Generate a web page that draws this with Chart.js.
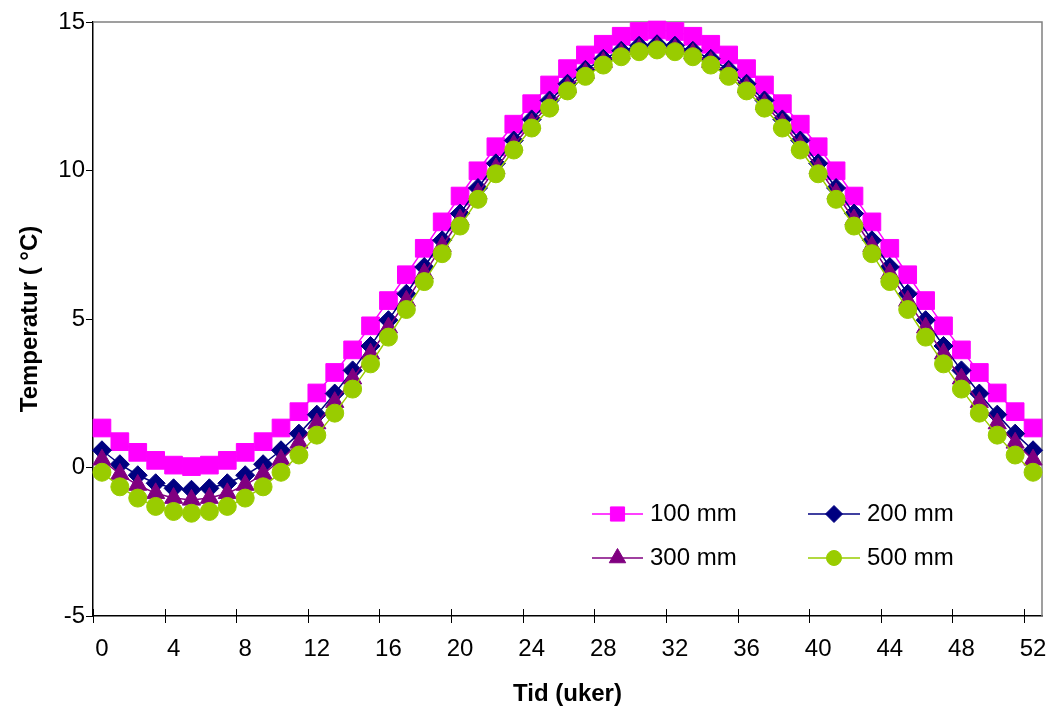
<!DOCTYPE html>
<html>
<head>
<meta charset="utf-8">
<script src="https://cdn.jsdelivr.net/npm/chart.js@4.4.1/dist/chart.umd.min.js"></script>
<style>
html,body{margin:0;padding:0;background:#fff;}
#c{display:block;}
</style>
</head>
<body>
<canvas id="c" width="1048" height="706"></canvas>
<script>
// Week categories (Tid, uker)
const weeks = ['0','1','2','3','4','5','6','7','8','9','10','11','12','13','14','15','16','17','18','19','20','21','22','23','24','25','26','27','28','29','30','31','32','33','34','35','36','37','38','39','40','41','42','43','44','45','46','47','48','49','50','51','52'];

// Temperatures (°C)
const t100 = [1.33,0.87,0.51,0.24,0.08,0.03,0.08,0.24,0.51,0.87,1.33,1.88,2.51,3.20,3.96,4.77,5.62,6.49,7.38,8.27,9.14,9.99,10.80,11.56,12.25,12.88,13.43,13.89,14.25,14.52,14.68,14.73,14.68,14.52,14.25,13.89,13.43,12.88,12.25,11.56,10.80,9.99,9.14,8.27,7.38,6.49,5.62,4.77,3.96,3.20,2.51,1.88,1.33];
const t200 = [0.58,0.11,-0.26,-0.53,-0.70,-0.75,-0.70,-0.53,-0.26,0.11,0.58,1.14,1.78,2.49,3.27,4.09,4.96,5.85,6.75,7.65,8.55,9.41,10.24,11.01,11.72,12.36,12.92,13.39,13.76,14.03,14.20,14.25,14.20,14.03,13.76,13.39,12.92,12.36,11.72,11.01,10.24,9.41,8.55,7.65,6.75,5.85,4.96,4.09,3.27,2.49,1.78,1.14,0.58];
const t300 = [0.26,-0.22,-0.59,-0.87,-1.03,-1.09,-1.03,-0.87,-0.59,-0.22,0.26,0.83,1.48,2.20,2.99,3.83,4.71,5.61,6.53,7.45,8.35,9.23,10.07,10.86,11.58,12.23,12.80,13.28,13.65,13.93,14.09,14.15,14.09,13.93,13.65,13.28,12.80,12.23,11.58,10.86,10.07,9.23,8.35,7.45,6.53,5.61,4.71,3.83,2.99,2.20,1.48,0.83,0.26];
const t500 = [-0.16,-0.65,-1.03,-1.31,-1.48,-1.54,-1.48,-1.31,-1.03,-0.65,-0.16,0.42,1.09,1.83,2.64,3.49,4.39,5.32,6.26,7.20,8.13,9.03,9.89,10.69,11.43,12.10,12.68,13.17,13.55,13.83,14.00,14.06,14.00,13.83,13.55,13.17,12.68,12.10,11.43,10.69,9.89,9.03,8.13,7.20,6.26,5.32,4.39,3.49,2.64,1.83,1.09,0.42,-0.16];

const seriesNames = ['100 mm','200 mm','300 mm','500 mm'];
const yTickValues = [-5, 0, 5, 10, 15];
const xTickEvery = 4;

const FONT = '"Liberation Sans", Arial, sans-serif';

const colors = ['#FF00FF', '#000080', '#800080', '#99CC00'];
const styles = ['rect', 'rectRot', 'triangle', 'circle'];
const radii = [12.5, 9.5, 10.5, 9];

function ds(i, data, order) {
  return {
    label: seriesNames[i], data: data,
    borderColor: colors[i], backgroundColor: colors[i],
    borderWidth: 1.5,
    pointStyle: styles[i], pointRadius: radii[i], pointHoverRadius: radii[i],
    pointBackgroundColor: colors[i], pointBorderColor: colors[i], pointBorderWidth: 1,
    tension: 0, order: order, clip: false
  };
}

const framePlugin = {
  id: 'frame',
  beforeDatasetsDraw(chart) {
    const {ctx, chartArea: a, scales: {x}} = chart;
    ctx.save();
    ctx.strokeStyle = '#808080';
    ctx.lineWidth = 1.5;
    ctx.beginPath();
    ctx.moveTo(a.left, a.top);
    ctx.lineTo(a.right, a.top);
    ctx.lineTo(a.right, a.bottom);
    ctx.stroke();
    // x tick marks at category boundaries
    const half = (x.getPixelForValue(1) - x.getPixelForValue(0)) / 2;
    ctx.strokeStyle = '#000';
    ctx.lineWidth = 1;
    for (let i = 0; i < weeks.length; i += xTickEvery) {
      const px = Math.round(x.getPixelForValue(i) - half) + 0.5;
      ctx.beginPath();
      ctx.moveTo(px, a.bottom - 7);
      ctx.lineTo(px, a.bottom + 7);
      ctx.stroke();
    }
    ctx.restore();
  }
};

const legendPlugin = {
  id: 'insideLegend',
  afterDatasetsDraw(chart) {
    const ctx = chart.ctx;
    const items = [
      {i: 0, x0: 592, x1: 643, y: 514, r: 10},
      {i: 1, x0: 808, x1: 860, y: 514, r: 8.5},
      {i: 2, x0: 592, x1: 643, y: 558, r: 9.5},
      {i: 3, x0: 808, x1: 860, y: 558, r: 7.5}
    ];
    ctx.save();
    items.forEach(it => {
      const c = colors[it.i];
      ctx.strokeStyle = c;
      ctx.lineWidth = 1.5;
      ctx.beginPath();
      ctx.moveTo(it.x0, it.y);
      ctx.lineTo(it.x1, it.y);
      ctx.stroke();
      ctx.fillStyle = c;
      ctx.lineWidth = 1;
      Chart.helpers.drawPoint(ctx, {pointStyle: styles[it.i], radius: it.r, rotation: 0, borderWidth: 1}, (it.x0 + it.x1) / 2, it.y);
      ctx.fillStyle = '#000';
      ctx.font = '24px ' + FONT;
      ctx.textBaseline = 'middle';
      ctx.textAlign = 'left';
      ctx.fillText(seriesNames[it.i], it.x1 + 7, it.y);
    });
    ctx.restore();
  }
};

new Chart(document.getElementById('c'), {
  type: 'line',
  data: {
    labels: weeks,
    datasets: [ds(0, t100, 4), ds(1, t200, 3), ds(2, t300, 2), ds(3, t500, 1)]
  },
  options: {
    responsive: false,
    animation: false,
    devicePixelRatio: 1,
    layout: {autoPadding: false, padding: {top: 22, right: 6, left: 0, bottom: 0}},
    plugins: {legend: {display: false}, tooltip: {enabled: false}},
    events: [],
    scales: {
      x: {
        type: 'category',
        offset: true,
        grid: {display: false},
        border: {display: true, color: '#000', width: 1.5},
        ticks: {
          autoSkip: false, maxRotation: 0, minRotation: 0,
          padding: 11, color: '#000',
          font: {family: FONT, size: 24},
          callback: (v, i) => (i % xTickEvery === 0 ? weeks[i] : '')
        },
        title: {display: true, text: 'Tid (uker)', color: '#000',
          font: {family: FONT, size: 24, weight: 'bold'}, padding: {top: 0, bottom: -3}},
        afterFit: s => { s.height = 90; s.paddingLeft = 0; s.paddingRight = 0; }
      },
      y: {
        min: -5, max: 15,
        afterBuildTicks: s => { s.ticks = yTickValues.map(v => ({value: v})); },
        grid: {drawOnChartArea: false, drawTicks: true, tickLength: 7, tickColor: '#000', tickWidth: 1},
        border: {display: true, color: '#000', width: 1.5},
        ticks: {padding: 1, color: '#000', font: {family: FONT, size: 24}},
        title: {display: true, text: 'Temperatur ( °C)', color: '#000',
          font: {family: FONT, size: 24, weight: 'bold'}, padding: {top: 16, bottom: 0}},
        afterFit: s => { s.width = 93; s.paddingTop = 0; s.paddingBottom = 0; }
      }
    }
  },
  plugins: [framePlugin, legendPlugin]
});
</script>
</body>
</html>
